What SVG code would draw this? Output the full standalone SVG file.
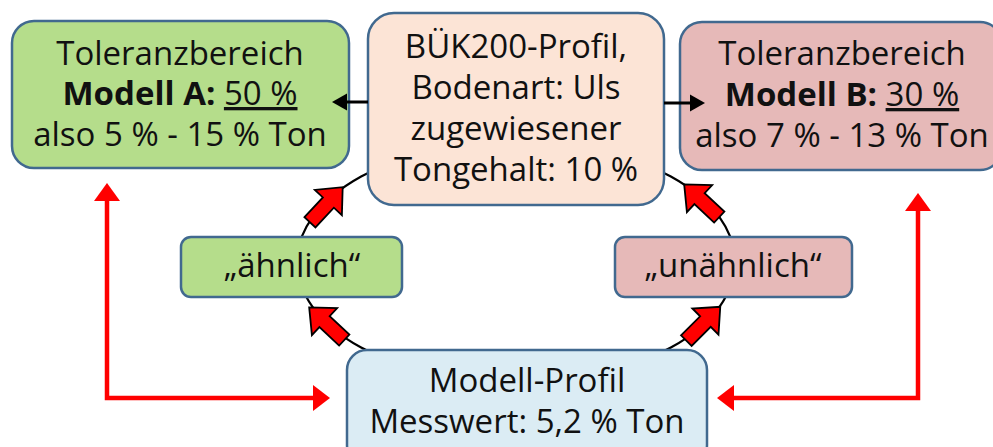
<svg xmlns="http://www.w3.org/2000/svg" width="993" height="447" viewBox="0 0 993 447">
<style>
.box{stroke:#41698f;stroke-width:2.5}
.t{font-family:"Open Sans","Liberation Sans",sans-serif;font-size:33px;fill:#111;text-anchor:middle}
.b{font-weight:bold}
.u{text-decoration:underline}
.blk{fill:none;stroke:#000;stroke-width:3}
.red{fill:none;stroke:#ff0000;stroke-width:4.5}
.rh{fill:#ff0000}
.fat{fill:#ff0000;stroke:#000;stroke-width:1.8;stroke-linejoin:miter}
</style>
<defs>
<polygon id="fat" class="fat" points="-25,-7.5 2,-7.5 2,-18.5 23,0 2,18.5 2,7.5 -25,7.5"/>
</defs>
<rect width="993" height="447" fill="#fff"/>
<g id="connectors">
<ellipse cx="516" cy="262" rx="219" ry="121" fill="none" stroke="#000" stroke-width="2.2"/>
<path class="red" d="M107,199 V398 H316"/>
<polygon class="rh" points="107,183 94,201 120,201"/>
<polygon class="rh" points="330,398 313,385 313,411"/>
<path class="red" d="M918,209 V398 H732"/>
<polygon class="rh" points="918,193 905,211 931,211"/>
<polygon class="rh" points="717,398 734,385 734,411"/>
</g>
<g id="modellA">
<rect class="box" x="12" y="21" width="337" height="147" rx="22" fill="#b5dd8b"/>
<text class="t" x="180" y="65">Toleranzbereich</text>
<text class="t" x="180" y="105"><tspan class="b">Modell A:</tspan> <tspan class="u">50 %</tspan></text>
<text class="t" x="180" y="146">also 5 % - 15 % Ton</text>
</g>
<g id="buek">
<rect class="box" x="368" y="13" width="296" height="192" rx="26" fill="#fce4d6"/>
<text class="t" x="516" y="58">BÜK200-Profil,</text>
<text class="t" x="516" y="99">Bodenart: Uls</text>
<text class="t" x="516" y="140">zugewiesener</text>
<text class="t" x="516" y="181">Tongehalt: 10 %</text>
</g>
<g id="modellB">
<rect class="box" x="680" y="22" width="322" height="148" rx="22" fill="#e6b9b8"/>
<text class="t" x="842" y="65">Toleranzbereich</text>
<text class="t" x="842" y="106"><tspan class="b">Modell B:</tspan> <tspan class="u">30 %</tspan></text>
<text class="t" x="842" y="147">also 7 % - 13 % Ton</text>
</g>
<g id="aehnlich">
<rect class="box" x="181" y="237" width="221" height="60" rx="10" fill="#b5dd8b"/>
<text class="t" x="292" y="277">„ähnlich“</text>
</g>
<g id="unaehnlich">
<rect class="box" x="615" y="237" width="237" height="60" rx="10" fill="#e6b9b8"/>
<text class="t" x="733" y="277">„unähnlich“</text>
</g>
<g id="modellprofil">
<rect class="box" x="347" y="350" width="360" height="115" rx="20" fill="#dbecf4"/>
<text class="t" x="527" y="392">Modell-Profil</text>
<text class="t" x="527" y="433">Messwert: 5,2 % Ton</text>
</g>
<g id="connectors-top">
<line class="blk" x1="368" y1="102" x2="345" y2="102"/>
<polygon points="332,102 347,93.5 347,110.5" fill="#000"/>
<line class="blk" x1="664" y1="103" x2="691" y2="103"/>
<polygon points="705,103 690,94.5 690,111.5" fill="#000"/>
<use href="#fat" transform="translate(327,204) rotate(-47)"/>
<use href="#fat" transform="translate(326,323) rotate(-137)"/>
<use href="#fat" transform="translate(701,200) rotate(-137)"/>
<use href="#fat" transform="translate(704,323) rotate(-45)"/>
</g>
</svg>
